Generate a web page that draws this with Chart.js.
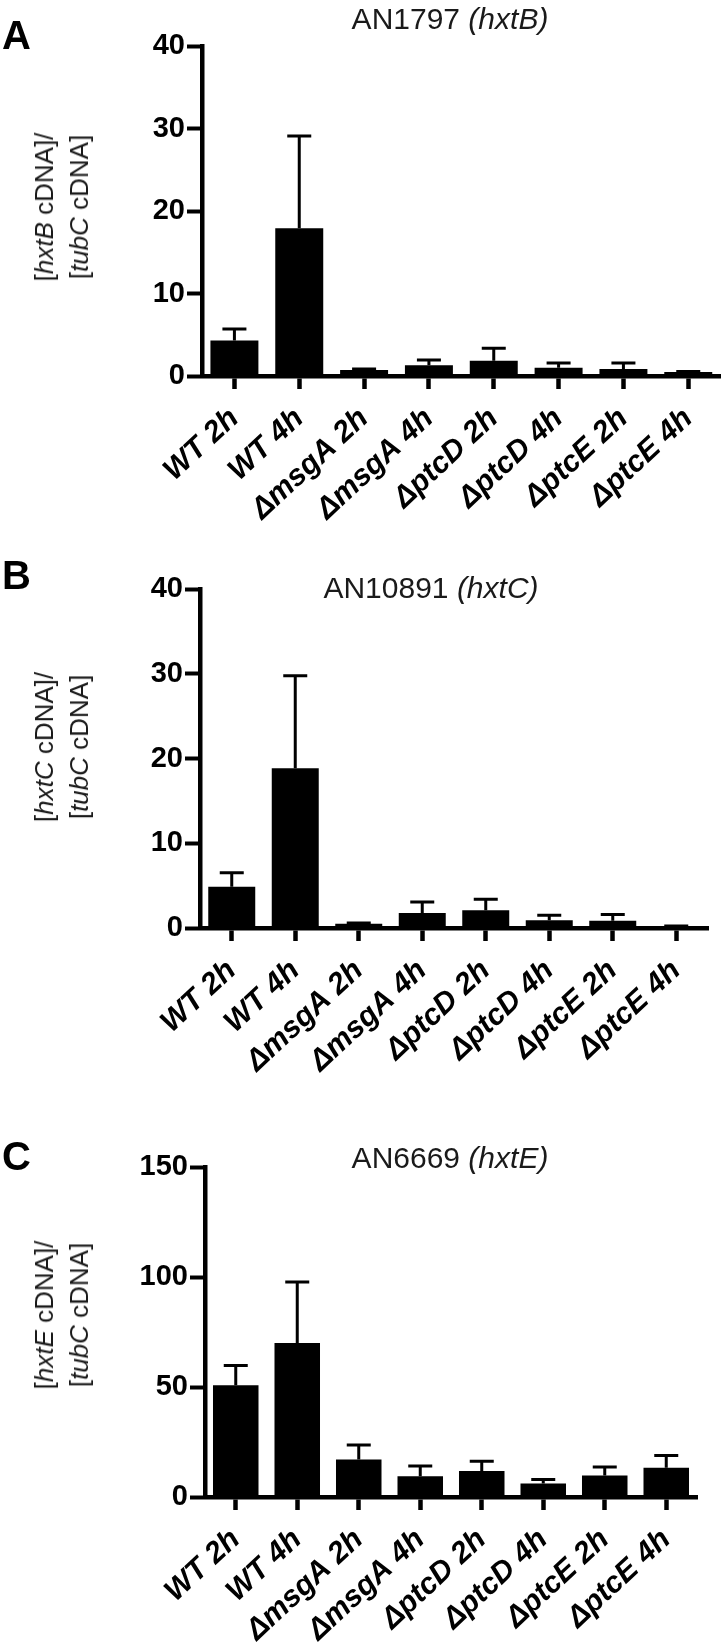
<!DOCTYPE html>
<html>
<head>
<meta charset="utf-8">
<script src="https://cdn.jsdelivr.net/npm/chart.js@4.4.1/dist/chart.umd.min.js"></script>
<style>
  html, body { margin:0; padding:0; background:#fff; }
  body { width:725px; height:1647px; position:relative; overflow:hidden; font-family:"Liberation Sans", Arial, sans-serif; }
  .panel { position:absolute; left:0; width:725px; }
  .letter { position:absolute; left:2px; font-weight:bold; font-size:40px; line-height:1; color:#000; }
  .ptitle { position:absolute; font-size:30px; line-height:1; color:#1a1a1a; white-space:nowrap; transform:translateX(-50%); }
  .ytitle { position:absolute; font-size:26px; line-height:35px; color:#1a1a1a; white-space:nowrap; text-align:center;
            transform:translate(-50%,-50%) rotate(-90deg); }
  canvas { position:absolute; left:0; }
</style>
</head>
<body>
<script>
// ---------- data ----------
const categories = ['WT 2h','WT 4h','\u0394msgA 2h','\u0394msgA 4h','\u0394ptcD 2h','\u0394ptcD 4h','\u0394ptcE 2h','\u0394ptcE 4h'];

const hxtBMean = [4.29, 17.9, 0.73, 1.3, 1.85, 1.0, 0.85, 0.49];
const hxtBErr  = [1.42, 11.2, 0.12, 0.64, 1.5, 0.58, 0.73, 0.06];
const hxtBTicks = [0, 10, 20, 30, 40];

const hxtCMean = [4.87, 18.84, 0.5, 1.77, 2.09, 0.9, 0.87, 0.2];
const hxtCErr  = [1.66, 10.91, 0.1, 1.3, 1.3, 0.6, 0.73, 0.05];
const hxtCTicks = [0, 10, 20, 30, 40];

const hxtEMean = [50.8, 70.0, 17.1, 9.4, 11.8, 6.1, 9.8, 13.3];
const hxtEErr  = [9.0, 27.7, 6.5, 4.7, 4.4, 1.9, 3.8, 5.6];
const hxtETicks = [0, 50, 100, 150];

// ---------- layout (positions/sizes only) ----------
const panels = [
  { letter:'A', top:0, height:540, areaTop:46, areaBottom:376, left:202, right:722,
    title:['AN1797 ', 'hxtB'], titleX:450, titleTop:4, ytitle:['hxtB','tubC'], yCenterY:207,
    mean:hxtBMean, err:hxtBErr, ticks:hxtBTicks, letterTop:15 },
  { letter:'B', top:540, height:560, areaTop:49, areaBottom:388, left:200, right:708,
    title:['AN10891 ', 'hxtC'], titleX:431, titleTop:33, ytitle:['hxtC','tubC'], yCenterY:207,
    mean:hxtCMean, err:hxtCErr, ticks:hxtCTicks, letterTop:15 },
  { letter:'C', top:1100, height:547, areaTop:67, areaBottom:397, left:205, right:697,
    title:['AN6669 ', 'hxtE'], titleX:450, titleTop:43, ytitle:['hxtE','tubC'], yCenterY:215,
    mean:hxtEMean, err:hxtEErr, ticks:hxtETicks, letterTop:36 }
];

const FONT = '"Liberation Sans", Arial, sans-serif';

const errorBarPlugin = {
  id: 'errorBars',
  afterDatasetsDraw(chart, args, opts) {
    const ctx = chart.ctx;
    const meta = chart.getDatasetMeta(0);
    const yScale = chart.scales.y;
    const ds = chart.data.datasets[0];
    ctx.save();
    ctx.strokeStyle = '#000';
    ctx.lineWidth = 3;
    ctx.lineCap = 'butt';
    meta.data.forEach((bar, i) => {
      const top = yScale.getPixelForValue(ds.data[i] + opts.err[i]);
      const half = 12;
      ctx.beginPath();
      ctx.moveTo(bar.x, bar.y);
      ctx.lineTo(bar.x, top);
      ctx.moveTo(bar.x - half, top);
      ctx.lineTo(bar.x + half, top);
      ctx.stroke();
    });
    ctx.restore();
  }
};

panels.forEach(p => {
  const div = document.createElement('div');
  div.className = 'panel';
  div.style.top = p.top + 'px';
  div.style.height = p.height + 'px';
  document.body.appendChild(div);

  const canvas = document.createElement('canvas');
  canvas.width = 725; canvas.height = p.height;
  canvas.style.width = '725px'; canvas.style.height = p.height + 'px';
  canvas.style.top = '0px';
  div.appendChild(canvas);

  const L = document.createElement('div');
  L.className = 'letter'; L.textContent = p.letter; L.style.top = p.letterTop + 'px';
  div.appendChild(L);

  const T = document.createElement('div');
  T.className = 'ptitle';
  T.style.left = p.titleX + 'px'; T.style.top = p.titleTop + 'px';
  T.appendChild(document.createTextNode(p.title[0]));
  const it = document.createElement('i'); it.textContent = '(' + p.title[1] + ')';
  T.appendChild(it);
  div.appendChild(T);

  const Y = document.createElement('div');
  Y.className = 'ytitle';
  Y.style.left = '62px'; Y.style.top = p.yCenterY + 'px';
  Y.innerHTML = '[<i>' + p.ytitle[0] + '</i> cDNA]/<br>[<i>' + p.ytitle[1] + '</i> cDNA]';
  div.appendChild(Y);

  const ymax = p.ticks[p.ticks.length - 1];
  const step = p.ticks[1] - p.ticks[0];

  new Chart(canvas, {
    type: 'bar',
    data: {
      labels: categories,
      datasets: [{
        data: p.mean,
        backgroundColor: '#000',
        borderWidth: 0,
        barPercentage: 0.74,
        categoryPercentage: 1.0
      }]
    },
    options: {
      responsive: false,
      animation: false,
      devicePixelRatio: 1,
      layout: { padding: { top: p.areaTop, left: 0, right: 725 - p.right, bottom: 0 } },
      plugins: {
        legend: { display: false },
        title: { display: false },
        tooltip: { enabled: false },
        errorBars: { err: p.err }
      },
      scales: {
        y: {
          min: 0, max: ymax,
          afterFit(scale) { scale.width = p.left; },
          afterBuildTicks(scale) { scale.ticks = p.ticks.map(v => ({ value: v })); },
          ticks: { stepSize: step, padding: 2, color: '#000', font: { family: FONT, size: 29, weight: 'bold' } },
          grid: { drawOnChartArea: false, drawTicks: true, tickLength: 15, tickWidth: 4, tickColor: '#000' },
          border: { display: true, width: 4.5, color: '#000' }
        },
        x: {
          afterFit(scale) { scale.height = p.height - p.areaBottom; },
          ticks: { minRotation: 43, maxRotation: 43, autoSkip: false, padding: 12, color: '#000',
                   font: { family: FONT, size: 30, weight: 'bold', style: 'italic' } },
          grid: { offset: false, drawOnChartArea: false, drawTicks: true, tickLength: 13, tickWidth: 4.5, tickColor: '#000' },
          border: { display: true, width: 4.5, color: '#000' }
        }
      }
    },
    plugins: [errorBarPlugin]
  });
});
</script>
</body>
</html>
